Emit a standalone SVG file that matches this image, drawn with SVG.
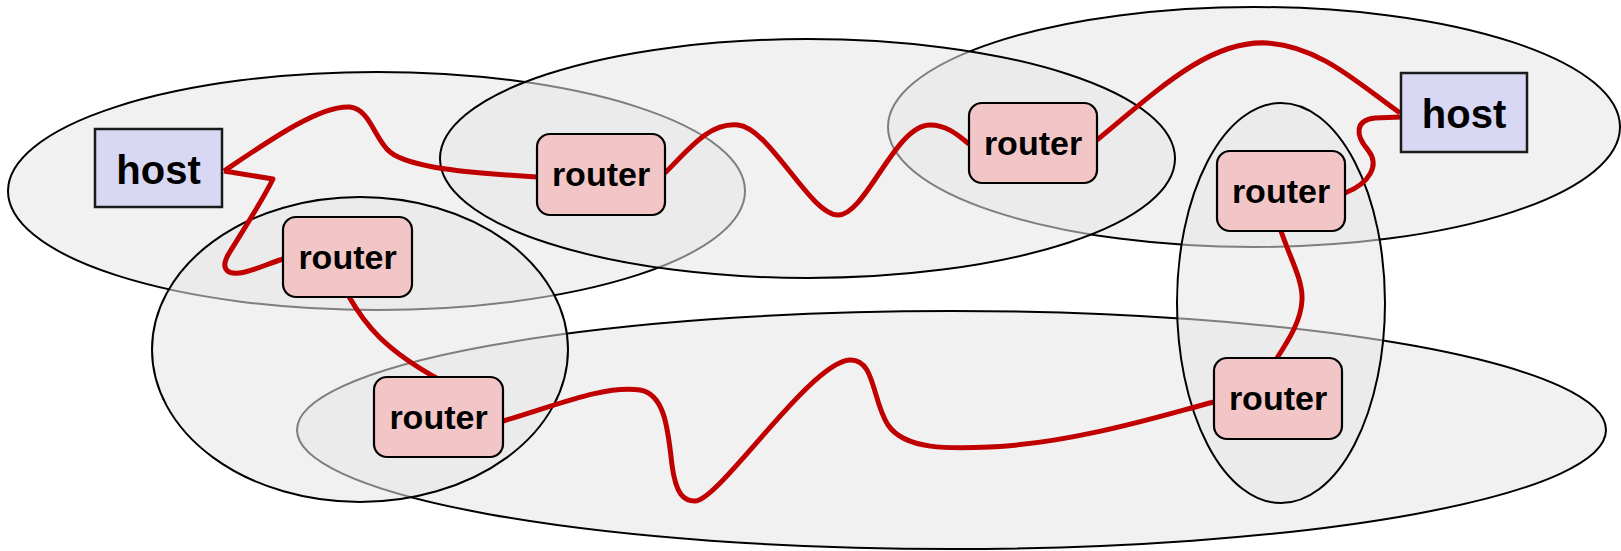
<svg xmlns="http://www.w3.org/2000/svg" width="1621" height="551" viewBox="0 0 1621 551">
<style>
.net{fill:#e6e6e6;fill-opacity:0.55;stroke:#000;stroke-width:2}
.router rect{fill:#f2c6c6;stroke:#000;stroke-width:2.2}
.host rect{fill:#d8d8f4;stroke:#1a1a1a;stroke-width:2.5}
text{font-family:"Liberation Sans",Arial,sans-serif;font-weight:bold;fill:#000;text-anchor:middle}
.router text{font-size:34px}
.host text{font-size:40px}
.link{fill:none;stroke:#c00000;stroke-width:5;stroke-linejoin:round}
</style>
<rect width="1621" height="551" fill="#fff"/>
<g id="networks">
<ellipse id="net-right" class="net" cx="1254" cy="127" rx="366" ry="120"/>
<ellipse id="net-left" class="net" cx="376.5" cy="191" rx="368.5" ry="119"/>
<ellipse id="net-bottom" class="net" cx="951.5" cy="430" rx="654.5" ry="119"/>
<ellipse id="net-middle" class="net" cx="807.5" cy="158.5" rx="367.5" ry="119.5"/>
<ellipse id="net-lowerleft" class="net" cx="360" cy="349.5" rx="208" ry="152.5"/>
<ellipse id="net-vertical" class="net" cx="1281" cy="303" rx="104" ry="200"/>
</g>
<g id="connectors">
<path class="link" d="M224,171 C270,140 320,105 350,107 C370,109 375,140 390,152 C410,168 470,173 537,177"/>
<path class="link" d="M224,171 L273,179 C260,205 240,235 228,255 C220,270 228,276 245,272 C260,268 270,263 283,259"/>
<path class="link" d="M348,295 C365,325 385,350 440,380"/>
<path class="link" d="M665,173 C690,148 710,122 738,125 C770,128 810,215 838,215 C866,215 895,125 930,125 C948,125 960,137 969,144"/>
<path class="link" d="M1097,140 C1160,88 1210,40 1267,43 C1320,46 1360,85 1400,113"/>
<path class="link" d="M1401,117 L1375,118 C1355,120 1355,135 1368,150 C1380,165 1370,183 1345,193"/>
<path class="link" d="M1281,231 C1290,258 1303,280 1302,300 C1301,320 1290,338 1277,358"/>
<path class="link" d="M503,421 C560,404 605,385 640,390 C665,394 668,430 672,465 C676,495 684,501 695,501 C720,500 810,362 850,360 C875,359 872,400 888,425 C905,450 950,449 990,447 C1080,443 1180,410 1214,402"/>
</g>
<g id="host1" class="host"><rect x="95" y="129" width="127" height="78"/><text x="158.5" y="184">host</text></g>
<g id="host2" class="host"><rect x="1401" y="73" width="126" height="79"/><text x="1464" y="128">host</text></g>
<g id="routerA" class="router"><rect x="283" y="217" width="129" height="80" rx="13"/><text x="347.5" y="269">router</text></g>
<g id="routerB" class="router"><rect x="537" y="134" width="128" height="81" rx="13"/><text x="601" y="186">router</text></g>
<g id="routerC" class="router"><rect x="969" y="103" width="128" height="80" rx="13"/><text x="1033" y="155">router</text></g>
<g id="routerD" class="router"><rect x="1217" y="151" width="128" height="80" rx="13"/><text x="1281" y="203">router</text></g>
<g id="routerE" class="router"><rect x="374" y="377" width="129" height="80" rx="13"/><text x="438.5" y="429">router</text></g>
<g id="routerF" class="router"><rect x="1214" y="358" width="128" height="81" rx="13"/><text x="1278" y="410">router</text></g>
</svg>
